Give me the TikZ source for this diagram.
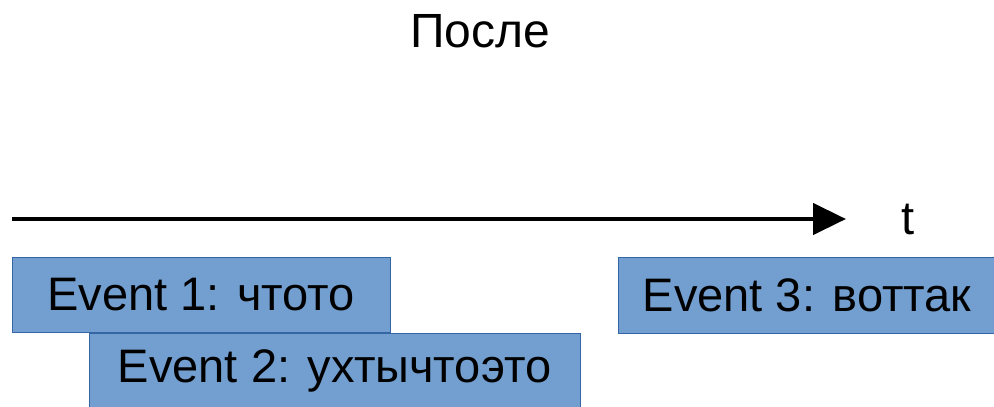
\documentclass[tikz,border=0pt]{standalone}
\usepackage{fontspec}
\setmainfont{Liberation Sans}
\usetikzlibrary{arrows.meta}
\definecolor{boxfill}{HTML}{729FCF}
\definecolor{boxline}{HTML}{3465A4}
\tikzset{
  evbox/.style={draw=boxline, line width=0.8pt, fill=boxfill, inner sep=0pt, text=black,
    font=\fontsize{47}{52}\selectfont},
  lbl/.style={inner sep=0pt, font=\fontsize{47}{52}\selectfont}
}
\begin{document}
\begin{tikzpicture}[x=1pt,y=-1pt]
\useasboundingbox (0,0) rectangle (994,407);
\node[lbl, font=\fontsize{48}{54}\selectfont] (title) at (480,31) {После};
\coordinate (a0) at (12,219);
\coordinate (a1) at (846,219);
\draw[line width=4.5pt, -{Triangle[length=33pt,width=31pt]}] (a0) -- (a1);
\node[lbl] (t) at (908,219) {t};
\node[evbox, minimum width=378pt, minimum height=75pt] (e1) at (201,294.5) {Event 1: чтото};
\node[evbox, minimum width=491pt, minimum height=76pt] (e2) at (334.5,371) {Event 2: ухтычтоэто};
\node[evbox, minimum width=378pt, minimum height=76pt] (e3) at (807,295) {Event 3: воттак};
\end{tikzpicture}
\end{document}
